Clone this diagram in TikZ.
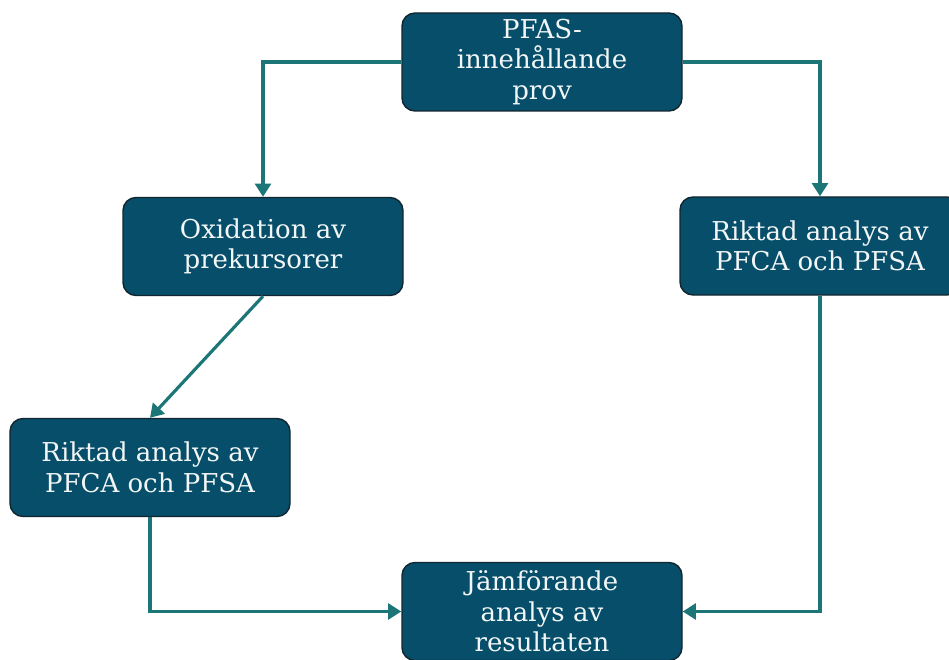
\documentclass[tikz,border=0pt]{standalone}
\usepackage{fontspec}
\setmainfont{DejaVu Serif}
\usetikzlibrary{arrows.meta}
\definecolor{boxfill}{RGB}{6,78,106}
\definecolor{boxline}{RGB}{18,38,48}
\definecolor{flowline}{RGB}{28,118,120}
\definecolor{boxtext}{RGB}{242,246,246}
\begin{document}
\begin{tikzpicture}[
  box/.style={draw=boxline, fill=boxfill, rounded corners=0.26cm, line width=0.8pt,
    minimum width=5.6cm, minimum height=1.96cm, align=center, text=boxtext,
    font=\fontsize{14.8}{17.4}\selectfont, inner sep=1pt},
  arr/.style={draw=flowline, line width=1.8pt, -{Triangle[width=9pt,length=7.5pt]}}
]
\useasboundingbox (0,0) rectangle (18.98,13.18);

% ---- boxes ----
\node[box] (prov)  at (10.84,11.94) {PFAS-\\innehållande\\prov};
\node[box] (oxid)  at (5.26,8.25)   {Oxidation av\\prekursorer};
\node[box] (riktR) at (16.40,8.26)  {Riktad analys av\\PFCA och PFSA};
\node[box] (riktL) at (3.00,3.83)   {Riktad analys av\\PFCA och PFSA};
\node[box] (jamf)  at (10.84,0.95)  {Jämförande\\analys av\\resultaten};

% ---- flow ----
\draw[arr] (prov.west) -| (oxid.north);
\draw[arr] (prov.east) -| (riktR.north);
\draw[arr] (oxid.south) -- (riktL.north);
\draw[arr] (riktL.south) |- (jamf.west);
\draw[arr] (riktR.south) |- (jamf.east);

\end{tikzpicture}
\end{document}
